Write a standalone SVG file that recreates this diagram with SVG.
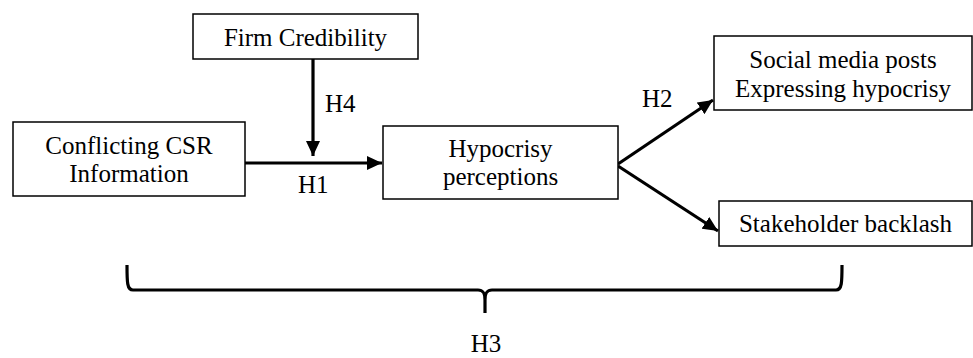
<svg xmlns="http://www.w3.org/2000/svg" width="973" height="358" viewBox="0 0 973 358">
<style>
.box{fill:#fff;stroke:#000;stroke-width:1.5}
.t{font-family:'Liberation Serif',Tinos,'Times New Roman','DejaVu Serif',serif;font-size:25px;fill:#000}
.c{text-anchor:middle}
.edge{stroke:#000;stroke-width:3.2;fill:none}
</style>
<defs>
<marker id="ah" markerUnits="userSpaceOnUse" markerWidth="16" markerHeight="14" refX="15" refY="7" orient="auto">
<path d="M0,0 L15,7 L0,14 Z" fill="#000"/>
</marker>
</defs>
<rect width="973" height="358" fill="#fff"/>
<g id="connectors">
<line class="edge" x1="313" y1="59" x2="313" y2="156" marker-end="url(#ah)"/>
<line class="edge" x1="245" y1="163" x2="382" y2="163" marker-end="url(#ah)"/>
<line class="edge" x1="618" y1="164" x2="713" y2="100" marker-end="url(#ah)"/>
<line class="edge" x1="618" y1="166" x2="718" y2="231" marker-end="url(#ah)"/>
<path class="edge" d="M127,265 C127,282 127,290 133,290 L478,290 C484,290 485,294 485,300 L485,313 M485,300 C485,294 486,290 492,290 L836,290 C842,290 842,282 842,265"/>
<text class="t" x="325" y="112">H4</text>
<text class="t" x="298" y="193">H1</text>
<text class="t" x="642" y="107">H2</text>
<text class="t c" x="486" y="352">H3</text>
</g>
<g id="firm">
<rect class="box" x="193" y="14" width="225" height="45"/>
<text class="t c" x="305.5" y="46">Firm Credibility</text>
</g>
<g id="conflicting">
<rect class="box" x="13" y="122" width="232" height="74"/>
<text class="t c" x="129" y="154">Conflicting CSR</text>
<text class="t c" x="129" y="182">Information</text>
</g>
<g id="hypocrisy">
<rect class="box" x="383" y="126" width="235" height="73"/>
<text class="t c" x="500.5" y="157">Hypocrisy</text>
<text class="t c" x="500.5" y="185">perceptions</text>
</g>
<g id="social">
<rect class="box" x="714" y="36" width="258" height="74"/>
<text class="t c" x="843" y="68">Social media posts</text>
<text class="t c" x="843" y="97">Expressing hypocrisy</text>
</g>
<g id="stakeholder">
<rect class="box" x="719" y="201" width="253" height="45"/>
<text class="t c" x="845.5" y="232">Stakeholder backlash</text>
</g>
</svg>
